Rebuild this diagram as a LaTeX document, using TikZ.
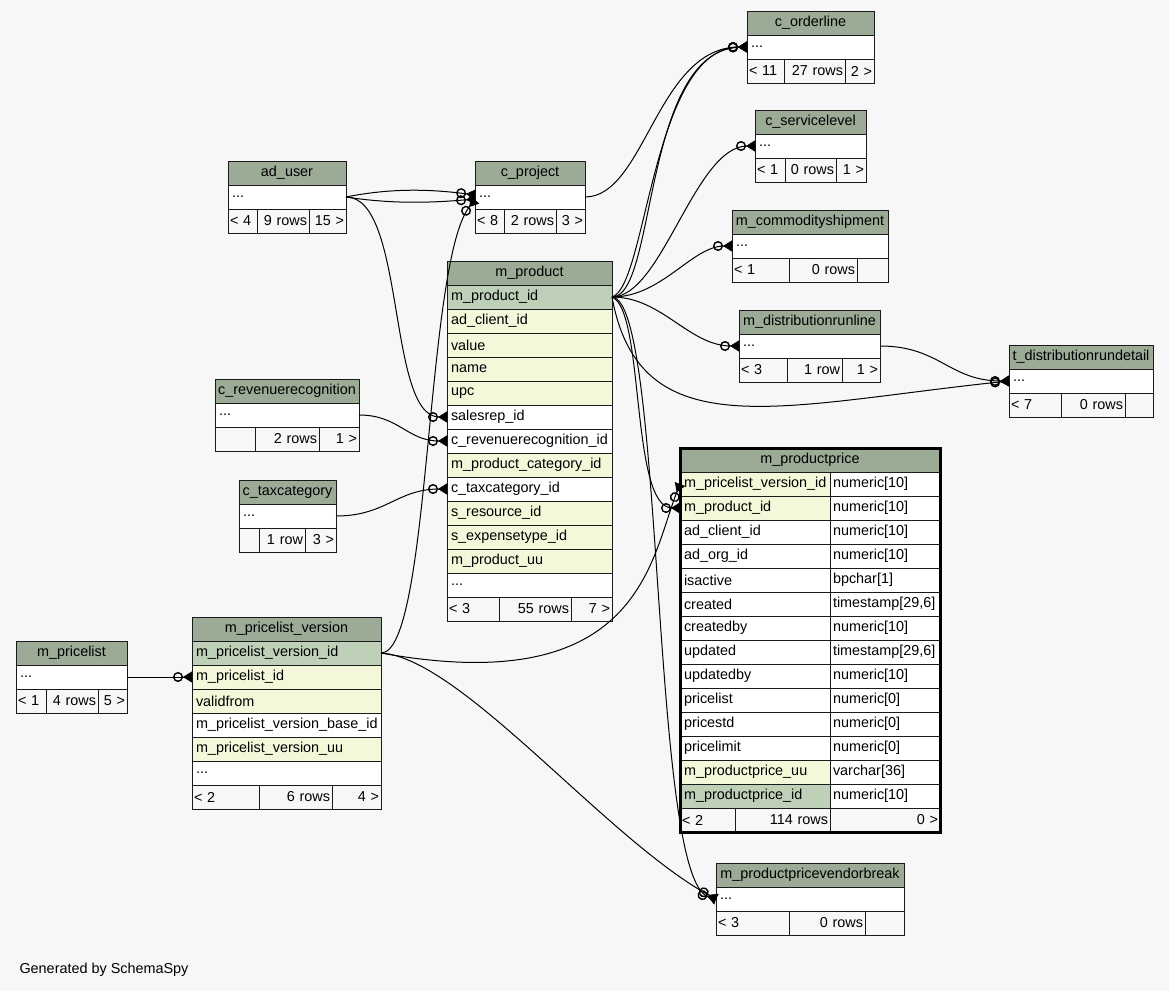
\documentclass[tikz,border=0pt]{standalone}
\usepackage{fontspec}
\setmainfont{Liberation Sans}
\usepackage{tikz}
\usetikzlibrary{arrows.meta, positioning, fit}
\definecolor{canvas}{HTML}{F7F7F7}
\definecolor{headfill}{HTML}{9BAB96}
\definecolor{pkfill}{HTML}{BED1B8}
\definecolor{idxfill}{HTML}{F4F7DA}
\definecolor{cellborder}{HTML}{1A1A1A}
\tikzset{
  font=\fontsize{14.4}{17}\selectfont,
  cellbase/.style={
    rectangle, draw=cellborder, line width=1pt, anchor=north west,
    minimum height=24pt, inner xsep=4pt, inner ysep=0pt, outer sep=0pt,
    align=left
  },
  wide/.style={
    minimum width=#1pt,
    /utils/exec={\pgfmathsetlengthmacro\celltw{#1pt-2*\pgfkeysvalueof{/pgf/inner xsep}}},
    text width=\celltw
  },
  tblhead/.style={cellbase, fill=headfill, align=center, inner xsep=1pt},
  tblrow/.style={cellbase, fill=white},
  pkrow/.style={cellbase, fill=pkfill},
  idxrow/.style={cellbase, fill=idxfill},
  tblfoot/.style={cellbase, fill=canvas, inner xsep=2pt},
  focusframe/.style={rectangle, draw=black, line width=3pt, inner sep=0pt},
  fkline/.style={
    draw=black, line width=1pt,
    -{Circle[open, length=10pt, width=10pt, line width=1.4pt] Triangle[reversed, length=9pt, width=11pt]}
  }
}

\begin{document}
\begin{tikzpicture}[x=1pt, y=-1pt]
  \fill[canvas] (0,0) rectangle (1169,991);

  % c_orderline
  \node[tblhead, wide=127] (orderline) at (747,11) {c\_orderline};
  \node[tblrow, wide=127, below=0pt of orderline] (orderline_more) {...};
  \node[tblfoot, wide=37, below right=0pt of orderline_more.south west] (orderline_in) {< 11};
  \node[tblfoot, wide=61, align=right, right=0pt of orderline_in] (orderline_rows) {27 rows};
  \node[tblfoot, wide=29, align=right, right=0pt of orderline_rows] (orderline_out) {2 >};

  % c_servicelevel
  \node[tblhead, wide=111] (service) at (755,110) {c\_servicelevel};
  \node[tblrow, wide=111, below=0pt of service] (service_more) {...};
  \node[tblfoot, wide=30, below right=0pt of service_more.south west] (service_in) {< 1};
  \node[tblfoot, wide=51, align=right, right=0pt of service_in] (service_rows) {0 rows};
  \node[tblfoot, wide=30, align=right, right=0pt of service_rows] (service_out) {1 >};

  % m_commodityshipment
  \node[tblhead, wide=156] (commodity) at (732,210) {m\_commodityshipment};
  \node[tblrow, wide=156, below=0pt of commodity] (commodity_more) {...};
  \node[tblfoot, wide=57, below right=0pt of commodity_more.south west] (commodity_in) {< 1};
  \node[tblfoot, wide=68, align=right, right=0pt of commodity_in] (commodity_rows) {0 rows};
  \node[tblfoot, wide=31, align=right, right=0pt of commodity_rows] (commodity_out) {};

  % m_distributionrunline
  \node[tblhead, wide=141] (runline) at (739,310) {m\_distributionrunline};
  \node[tblrow, wide=141, below=0pt of runline] (runline_more) {...};
  \node[tblfoot, wide=48, below right=0pt of runline_more.south west] (runline_in) {< 3};
  \node[tblfoot, wide=55, align=right, right=0pt of runline_in] (runline_rows) {1 row};
  \node[tblfoot, wide=38, align=right, right=0pt of runline_rows] (runline_out) {1 >};

  % t_distributionrundetail
  \node[tblhead, wide=144] (rundetail) at (1009,345) {t\_distributionrundetail};
  \node[tblrow, wide=144, below=0pt of rundetail] (rundetail_more) {...};
  \node[tblfoot, wide=52, below right=0pt of rundetail_more.south west] (rundetail_in) {< 7};
  \node[tblfoot, wide=64, align=right, right=0pt of rundetail_in] (rundetail_rows) {0 rows};
  \node[tblfoot, wide=28, align=right, right=0pt of rundetail_rows] (rundetail_out) {};

  % ad_user
  \node[tblhead, wide=118] (aduser) at (228,161) {ad\_user};
  \node[tblrow, wide=118, below=0pt of aduser] (aduser_more) {...};
  \node[tblfoot, wide=29, below right=0pt of aduser_more.south west] (aduser_in) {< 4};
  \node[tblfoot, wide=52, align=right, right=0pt of aduser_in] (aduser_rows) {9 rows};
  \node[tblfoot, wide=37, align=right, right=0pt of aduser_rows] (aduser_out) {15 >};

  % c_project
  \node[tblhead, wide=110] (project) at (475,161) {c\_project};
  \node[tblrow, wide=110, below=0pt of project] (project_more) {...};
  \node[tblfoot, wide=29, below right=0pt of project_more.south west] (project_in) {< 8};
  \node[tblfoot, wide=52, align=right, right=0pt of project_in] (project_rows) {2 rows};
  \node[tblfoot, wide=29, align=right, right=0pt of project_rows] (project_out) {3 >};

  % m_product
  \node[tblhead, wide=165] (product) at (447,261) {m\_product};
  \node[pkrow, wide=165, below=0pt of product] (product_id) {m\_product\_id};
  \node[idxrow, wide=165, below=0pt of product_id] (product_client) {ad\_client\_id};
  \node[idxrow, wide=165, below=0pt of product_client] (product_value) {value};
  \node[idxrow, wide=165, below=0pt of product_value] (product_name) {name};
  \node[idxrow, wide=165, below=0pt of product_name] (product_upc) {upc};
  \node[tblrow, wide=165, below=0pt of product_upc] (product_salesrep) {salesrep\_id};
  \node[tblrow, wide=165, below=0pt of product_salesrep] (product_revenue) {c\_revenuerecognition\_id};
  \node[idxrow, wide=165, below=0pt of product_revenue] (product_category) {m\_product\_category\_id};
  \node[tblrow, wide=165, below=0pt of product_category] (product_tax) {c\_taxcategory\_id};
  \node[idxrow, wide=165, below=0pt of product_tax] (product_resource) {s\_resource\_id};
  \node[idxrow, wide=165, below=0pt of product_resource] (product_expense) {s\_expensetype\_id};
  \node[idxrow, wide=165, below=0pt of product_expense] (product_uu) {m\_product\_uu};
  \node[tblrow, wide=165, below=0pt of product_uu] (product_more) {...};
  \node[tblfoot, wide=52, below right=0pt of product_more.south west] (product_in) {< 3};
  \node[tblfoot, wide=72, align=right, right=0pt of product_in] (product_rows) {55 rows};
  \node[tblfoot, wide=41, align=right, right=0pt of product_rows] (product_out) {7 >};

  % c_revenuerecognition
  \node[tblhead, wide=144] (revenue) at (215,379) {c\_revenuerecognition};
  \node[tblrow, wide=144, below=0pt of revenue] (revenue_more) {...};
  \node[tblfoot, wide=40, below right=0pt of revenue_more.south west] (revenue_in) {};
  \node[tblfoot, wide=64, align=right, right=0pt of revenue_in] (revenue_rows) {2 rows};
  \node[tblfoot, wide=40, align=right, right=0pt of revenue_rows] (revenue_out) {1 >};

  % c_taxcategory
  \node[tblhead, wide=97] (tax) at (239,480) {c\_taxcategory};
  \node[tblrow, wide=97, below=0pt of tax] (tax_more) {...};
  \node[tblfoot, wide=20, below right=0pt of tax_more.south west] (tax_in) {};
  \node[tblfoot, wide=46, align=right, right=0pt of tax_in] (tax_rows) {1 row};
  \node[tblfoot, wide=31, align=right, right=0pt of tax_rows] (tax_out) {3 >};

  % m_pricelist
  \node[tblhead, wide=111] (pricelist) at (16,641) {m\_pricelist};
  \node[tblrow, wide=111, below=0pt of pricelist] (pricelist_more) {...};
  \node[tblfoot, wide=30, below right=0pt of pricelist_more.south west] (pricelist_in) {< 1};
  \node[tblfoot, wide=52, align=right, right=0pt of pricelist_in] (pricelist_rows) {4 rows};
  \node[tblfoot, wide=29, align=right, right=0pt of pricelist_rows] (pricelist_out) {5 >};

  % m_pricelist_version
  \node[tblhead, wide=189] (version) at (192,617) {m\_pricelist\_version};
  \node[pkrow, wide=189, below=0pt of version] (version_id) {m\_pricelist\_version\_id};
  \node[idxrow, wide=189, below=0pt of version_id] (version_list) {m\_pricelist\_id};
  \node[idxrow, wide=189, below=0pt of version_list] (version_from) {validfrom};
  \node[tblrow, wide=189, below=0pt of version_from] (version_base) {m\_pricelist\_version\_base\_id};
  \node[idxrow, wide=189, below=0pt of version_base] (version_uu) {m\_pricelist\_version\_uu};
  \node[tblrow, wide=189, below=0pt of version_uu] (version_more) {...};
  \node[tblfoot, wide=67, below right=0pt of version_more.south west] (version_in) {< 2};
  \node[tblfoot, wide=73, align=right, right=0pt of version_in] (version_rows) {6 rows};
  \node[tblfoot, wide=49, align=right, right=0pt of version_rows] (version_out) {4 >};

  % m_productprice (focus table)
  \node[tblhead, wide=260] (price) at (680,448) {m\_productprice};
  \foreach \fname/\ftype/\ffill [count=\i] in {
    m\_pricelist\_version\_id/numeric[10]/idxfill,
    m\_product\_id/numeric[10]/idxfill,
    ad\_client\_id/numeric[10]/white,
    ad\_org\_id/numeric[10]/white,
    isactive/bpchar[1]/white,
    created/{timestamp[29,6]}/white,
    createdby/numeric[10]/white,
    updated/{timestamp[29,6]}/white,
    updatedby/numeric[10]/white,
    pricelist/numeric[0]/white,
    pricestd/numeric[0]/white,
    pricelimit/numeric[0]/white,
    m\_productprice\_uu/varchar[36]/idxfill,
    m\_productprice\_id/numeric[10]/pkfill} {
    \node[cellbase, fill=\ffill, wide=150] (pricef\i) at (680,{448+24*\i}) {\fname};
    \node[tblrow, inner xsep=3pt, wide=110, right=0pt of pricef\i] (pricet\i) {\ftype};
  }
  \node[tblfoot, wide=55, below right=0pt of pricef14.south west] (price_in) {< 2};
  \node[tblfoot, wide=95, align=right, right=0pt of price_in] (price_rows) {114 rows};
  \node[tblfoot, wide=110, align=right, right=0pt of price_rows] (price_out) {0 >};
  \node[focusframe, fit=(price)(price_out)] (price_frame) {};

  % m_productpricevendorbreak
  \node[tblhead, wide=188] (vendor) at (716,863) {m\_productpricevendorbreak};
  \node[tblrow, wide=188, below=0pt of vendor] (vendor_more) {...};
  \node[tblfoot, wide=73, below right=0pt of vendor_more.south west] (vendor_in) {< 3};
  \node[tblfoot, wide=76, align=right, right=0pt of vendor_in] (vendor_rows) {0 rows};
  \node[tblfoot, wide=39, align=right, right=0pt of vendor_rows] (vendor_out) {};

  \node[anchor=west] (credit) at (16,970) {Generated by SchemaSpy};

  % relationships
  \draw[fkline] (aduser_more.east) .. controls +(45,-9) and +(-45,-6) .. ([yshift=2pt]project_more.west);
  \draw[fkline] (aduser_more.east) .. controls +(45,7) and +(-45,4) .. ([yshift=-2pt]project_more.west);
  \draw[fkline] (aduser_more.east) .. controls +(60,0) and +(-60,0) .. (product_salesrep.west);
  \draw[fkline] (version_id.east) .. controls +(50,0) and +(-50,60) .. ([yshift=-3pt]project_more.west);
  \draw[fkline] (project_more.east) .. controls +(60,0) and +(-90,0) .. (orderline_more.west);
  \draw[fkline] (product_id.east) .. controls +(35,-10) and +(-95,0) .. (orderline_more.west);
  \draw[fkline] (product_id.east) .. controls +(45,0) and +(-105,4) .. (orderline_more.west);
  \draw[fkline] (product_id.east) .. controls +(50,0) and +(-60,0) .. (service_more.west);
  \draw[fkline] (product_id.east) .. controls +(50,0) and +(-40,0) .. (commodity_more.west);
  \draw[fkline] (product_id.east) .. controls +(50,0) and +(-50,0) .. (runline_more.west);
  \draw[fkline] (product_id.east) .. controls +(28,153) and +(-229,24) .. (rundetail_more.west);
  \draw[fkline] (runline_more.east) .. controls +(60,0) and +(-60,0) .. (rundetail_more.west);
  \draw[fkline] (product_id.east) .. controls +(33,13) and +(-50,0) .. (pricef2.west);
  \draw[fkline] (version_id.east) .. controls +(259,47) and +(-30,76) .. (pricef1.west);
  \draw[fkline] (product_id.east) .. controls +(53,3) and +(-66,-19) .. (vendor_more.west);
  \draw[fkline] (version_id.east) .. controls +(80,5) and +(-110,-60) .. (vendor_more.west);
  \draw[fkline] (revenue_more.east) .. controls +(40,0) and +(-40,0) .. (product_revenue.west);
  \draw[fkline] (tax_more.east) .. controls +(50,0) and +(-50,0) .. (product_tax.west);
  \draw[fkline] (pricelist_more.east) -- (version_list.west);
\end{tikzpicture}
\end{document}
